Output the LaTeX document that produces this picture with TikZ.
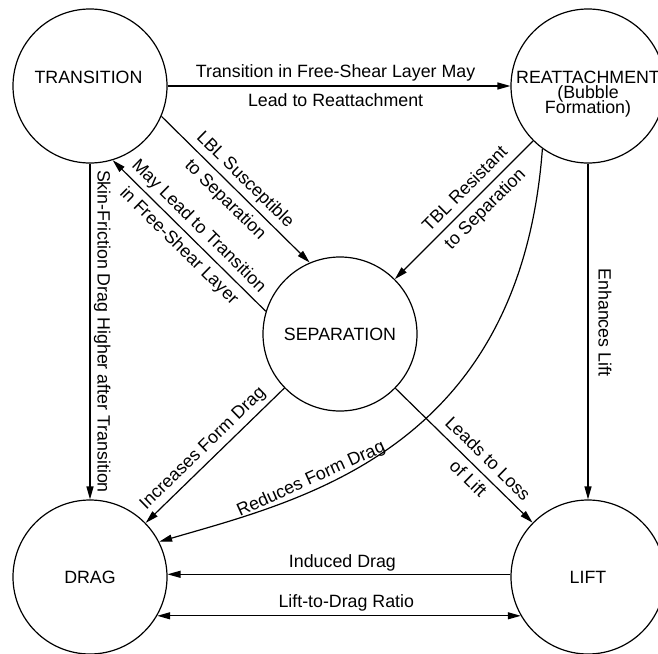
\documentclass[tikz,border=0pt]{standalone}
\usepackage{fontspec}
\setmainfont{Liberation Sans}
\usetikzlibrary{arrows.meta}
\newcommand\lblfont{\fontsize{17.8}{21.4}\selectfont}
\tikzset{
  circnode/.style={circle, draw, line width=1.2pt, minimum size=154pt, inner sep=0pt, font=\lblfont},
  ttext/.style={font=\lblfont, inner sep=0pt},
  elabel/.style={sloped, font=\lblfont, inner sep=0pt, text height=13pt, text depth=4pt},
  tipend/.style={line width=1.2pt, -{Triangle[length=13pt,width=7pt]}},
  tipboth/.style={line width=1.2pt, {Triangle[length=13pt,width=7pt]}-{Triangle[length=13pt,width=7pt]}},
}
\begin{document}
\begin{tikzpicture}[x=1pt,y=-1pt]
\useasboundingbox (0,0) rectangle (658,653);
% circles
\node[circnode] (T) at (90,86) {};
\node[circnode] (R) at (588,86) {};
\node[circnode] (S) at (340,334) {SEPARATION};
\node[circnode] (D) at (90,577) {DRAG};
\node[circnode] (L) at (588,577) {LIFT};
% texts of the upper circles
\node[ttext] (Tt) at (88.5,77.5) {TRANSITION};
\node[ttext, align=center, anchor=north] (Rt) at (588,70.5) {REATTACHMENT\\[-6.4pt](Bubble\\[-6.4pt]Formation)};
% connectors
\draw[tipend] (T) -- (R)
  node[elabel, pos=0.49, above=4pt] {Transition in Free-Shear Layer May}
  node[elabel, pos=0.49, below=7pt] {Lead to Reattachment};
\draw[tipend] (T.-23) -- (S.113)
  node[elabel, midway, above=4pt] {LBL Susceptible}
  node[elabel, midway, below=6pt] {to Separation};
\draw[tipend] (S.163) -- (T.-73)
  node[elabel, midway, above=4pt] {May Lead to Transition}
  node[elabel, midway, below=6pt] {in Free-Shear Layer};
\draw[tipend] (R) -- (S)
  node[elabel, pos=0.42, above=4pt] {TBL Resistant}
  node[elabel, pos=0.42, below=6pt] {to Separation};
\draw[tipend] (S) -- (L)
  node[elabel, pos=0.6, above=4pt] {Leads to Loss}
  node[elabel, pos=0.6, below=6pt] {of Lift};
\draw[tipend] (S) -- (D)
  node[elabel, pos=0.52, above=4pt] {Increases Form Drag};
\draw[tipend] (R.-126) .. controls (520,450) and (302,500) .. (D.27)
  node[elabel, pos=0.67, above=1pt] {Reduces Form Drag};
\draw[tipend] (R) -- (L)
  node[elabel, allow upside down, pos=0.473, above=6pt] {Enhances Lift};
\draw[tipend] (T) -- (D)
  node[elabel, allow upside down, midway, above=3pt] {Skin-Friction Drag Higher after Transition};
\draw[tipend] (L.178) -- (D.2)
  node[elabel, pos=0.49, above=2pt] {Induced Drag};
\draw[tipboth] (D.-30) -- (L.-150)
  node[elabel, pos=0.52, above=4pt] {Lift-to-Drag Ratio};
\end{tikzpicture}
\end{document}
